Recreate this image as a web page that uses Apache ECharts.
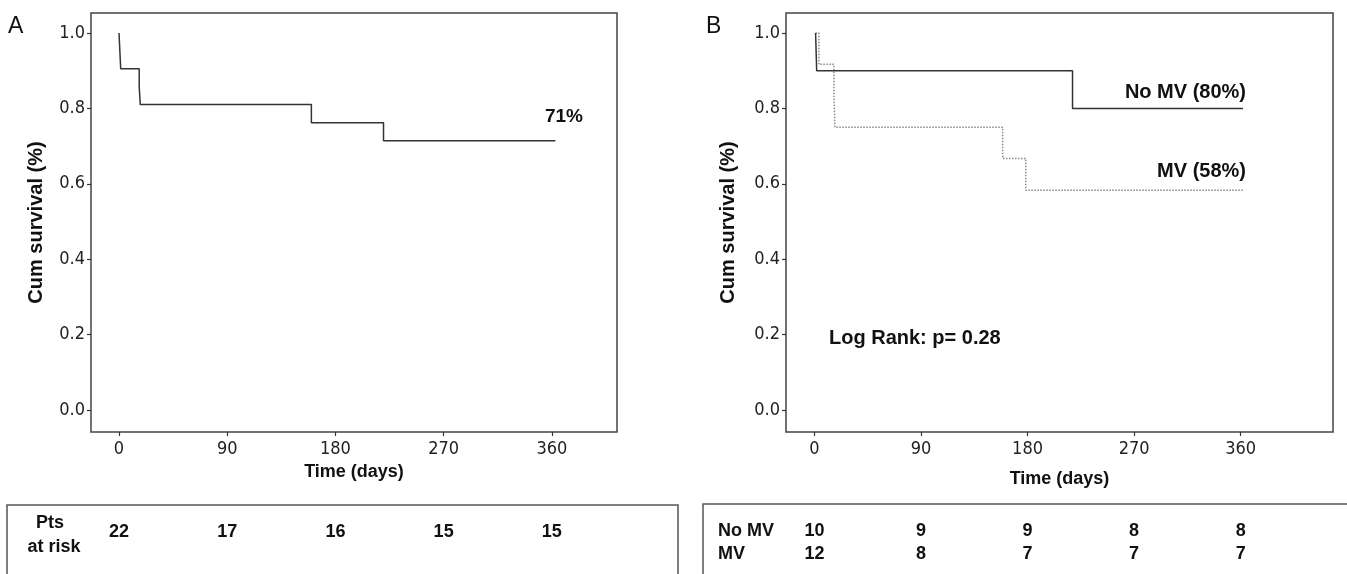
<!DOCTYPE html>
<html>
 <head>
  <title>Kaplan-Meier survival</title>
  <script src="https://cdn.jsdelivr.net/npm/echarts@6/dist/echarts.min.js"></script>
  <style>
    html, body, #container {
    width: 1347px;
    height: 574px;
    margin: 0;
    padding: 0;
    background: #fff;
    }
  </style>
 </head>
  <body>
    <div id="container"></div>
    <script>
// panel A: all patients
var timesA = [0, 1.4, 16.8, 17.7, 160, 220, 363];
var survA = [1.0, 0.905, 0.857, 0.810, 0.762, 0.714, 0.714];
// panel B: no MV / MV
var timesNoMV = [1, 1.9, 218, 362];
var survNoMV = [1.0, 0.9, 0.8, 0.8];
var timesMV = [1, 3.8, 16.5, 17.3, 159, 178.5, 362];
var survMV = [1.0, 0.917, 0.833, 0.75, 0.667, 0.583, 0.583];

var xTicks = [0, 90, 180, 270, 360];
var yTicks = [0, 0.2, 0.4, 0.6, 0.8, 1.0];
var riskTimes = [0, 90, 180, 270, 360];
var atRiskA = [22, 17, 16, 15, 15];
var atRiskNoMV = [10, 9, 9, 8, 8];
var atRiskMV = [12, 8, 7, 7, 7];

function pairs(xs, ys) {
  return xs.map(function (x, i) { return [x, ys[i]]; });
}

var tickFont = {fontFamily: '"DejaVu Sans Condensed", "DejaVu Sans"', fontSize: 18, color: '#222'};
var boldFont = 'Liberation Sans';

function xAxisFor(idx, min, max) {
  return {
    type: 'value', gridIndex: idx, min: min, max: max,
    name: 'Time (days)', nameLocation: 'middle', nameGap: idx === 0 ? 25 : 32,
    nameMoveOverlap: false,
    nameTextStyle: {fontFamily: boldFont, fontWeight: 'bold', fontSize: 18, color: '#111'},
    axisLine: {show: false, onZero: false},
    axisTick: {show: true, length: 4, customValues: xTicks, lineStyle: {color: '#333', width: 1.2}},
    axisLabel: Object.assign({customValues: xTicks, margin: 1}, tickFont),
    splitLine: {show: false}
  };
}
function yAxisFor(idx) {
  return {
    type: 'value', gridIndex: idx, min: -0.0584, max: 1.053,
    name: 'Cum survival (%)', nameLocation: 'middle', nameGap: idx === 0 ? 37 : 40,
    nameMoveOverlap: false,
    nameTextStyle: {fontFamily: boldFont, fontWeight: 'bold', fontSize: 20, color: '#111'},
    axisLine: {show: false, onZero: false},
    axisTick: {show: true, length: 4, customValues: yTicks, lineStyle: {color: '#333', width: 1.2}},
    axisLabel: Object.assign({customValues: yTicks, margin: 6,
      formatter: function (v) { return v.toFixed(1); }}, tickFont),
    splitLine: {show: false}
  };
}

var chartDom = document.getElementById('container');
var myChart = echarts.init(chartDom, null, {renderer: 'canvas'});

var option = {
  animation: false,
  backgroundColor: '#fff',
  grid: [
    {left: 91, top: 13, width: 526, height: 419, show: true, borderColor: '#444', borderWidth: 1.5, backgroundColor: 'transparent'},
    {left: 786, top: 13, width: 547, height: 419, show: true, borderColor: '#444', borderWidth: 1.5, backgroundColor: 'transparent'}
  ],
  xAxis: [xAxisFor(0, -23.3, 414.2), xAxisFor(1, -24, 438)],
  yAxis: [yAxisFor(0), yAxisFor(1)],
  series: [
    {type: 'line', xAxisIndex: 0, yAxisIndex: 0, step: 'end', symbol: 'none',
     lineStyle: {color: '#333', width: 1.5}, data: pairs(timesA, survA)},
    {type: 'line', xAxisIndex: 1, yAxisIndex: 1, step: 'end', symbol: 'none',
     lineStyle: {color: '#888', width: 1.5, type: 'dotted'}, data: pairs(timesMV, survMV)},
    {type: 'line', xAxisIndex: 1, yAxisIndex: 1, step: 'end', symbol: 'none',
     lineStyle: {color: '#333', width: 1.5}, data: pairs(timesNoMV, survNoMV)}
  ]
};
myChart.setOption(option);

// annotations and at-risk tables
var bold = function (size) { return 'bold ' + size + 'px "Liberation Sans", Arial, sans-serif'; };
var g = [
  {type: 'text', left: 8, top: 7, style: {text: 'A', font: '23px "Liberation Sans", Arial, sans-serif', fill: '#111'}},
  {type: 'text', left: 706, top: 7, style: {text: 'B', font: '23px "Liberation Sans", Arial, sans-serif', fill: '#111'}},
  {type: 'text', x: 564, y: 117, style: {text: '71%', font: bold(19), fill: '#111', align: 'center', verticalAlign: 'middle'}},
  {type: 'text', x: 1246, y: 92, style: {text: 'No MV (80%)', font: bold(20), fill: '#111', align: 'right', verticalAlign: 'middle'}},
  {type: 'text', x: 1246, y: 171, style: {text: 'MV (58%)', font: bold(20), fill: '#111', align: 'right', verticalAlign: 'middle'}},
  {type: 'text', x: 829, y: 338, style: {text: 'Log Rank: p= 0.28', font: bold(20), fill: '#111', align: 'left', verticalAlign: 'middle'}},
  {type: 'rect', shape: {x: 7, y: 505, width: 671, height: 90}, style: {fill: 'none', stroke: '#555', lineWidth: 1.5}},
  {type: 'rect', shape: {x: 703, y: 504, width: 700, height: 90}, style: {fill: 'none', stroke: '#555', lineWidth: 1.5}},
  {type: 'text', x: 50, y: 523, style: {text: 'Pts', font: bold(18), fill: '#111', align: 'center', verticalAlign: 'middle'}},
  {type: 'text', x: 54, y: 547, style: {text: 'at risk', font: bold(18), fill: '#111', align: 'center', verticalAlign: 'middle'}},
  {type: 'text', x: 718, y: 531, style: {text: 'No MV', font: bold(18), fill: '#111', align: 'left', verticalAlign: 'middle'}},
  {type: 'text', x: 718, y: 554, style: {text: 'MV', font: bold(18), fill: '#111', align: 'left', verticalAlign: 'middle'}}
];
riskTimes.forEach(function (t, i) {
  var pa = myChart.convertToPixel({xAxisIndex: 0, yAxisIndex: 0}, [t, 0]);
  var pb = myChart.convertToPixel({xAxisIndex: 1, yAxisIndex: 1}, [t, 0]);
  g.push({type: 'text', x: pa[0], y: 532, style: {text: String(atRiskA[i]), font: bold(18), fill: '#111', align: 'center', verticalAlign: 'middle'}});
  g.push({type: 'text', x: pb[0], y: 531, style: {text: String(atRiskNoMV[i]), font: bold(18), fill: '#111', align: 'center', verticalAlign: 'middle'}});
  g.push({type: 'text', x: pb[0], y: 554, style: {text: String(atRiskMV[i]), font: bold(18), fill: '#111', align: 'center', verticalAlign: 'middle'}});
});
myChart.setOption({graphic: g});
    </script>
  </body>
</html>
